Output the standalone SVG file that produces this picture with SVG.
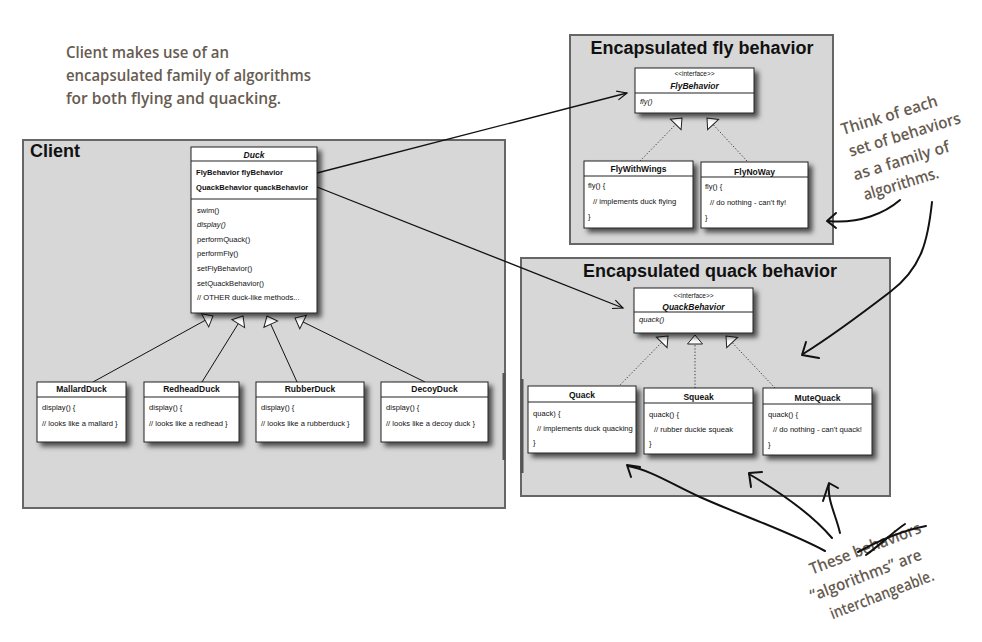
<svg xmlns="http://www.w3.org/2000/svg" width="982" height="642" viewBox="0 0 982 642">
<defs>
<filter id="sh" x="-20%" y="-20%" width="150%" height="150%">
<feDropShadow dx="4" dy="4" stdDeviation="2.5" flood-color="#000" flood-opacity="0.65"/>
</filter>
<marker id="tri" markerUnits="userSpaceOnUse" markerWidth="20" markerHeight="20" refX="0" refY="0" orient="auto" overflow="visible" viewBox="-12 -10 14 20">
<path d="M0,0 L-9,-7.5 L-9,7.5 Z" fill="#fff" stroke="#222" stroke-width="1"/>
</marker>
<marker id="open" markerUnits="userSpaceOnUse" markerWidth="20" markerHeight="20" refX="0" refY="0" orient="auto" overflow="visible" viewBox="-12 -10 14 20">
<path d="M-10,-4.5 L0,0 L-10,4.5" fill="none" stroke="#111" stroke-width="1.2"/>
</marker>
</defs>
<style>
.cont{fill:#d7d7d7;stroke:#666;stroke-width:2}
.ctitle{font-family:"Liberation Sans",Arial,sans-serif;font-weight:bold;font-size:18px;fill:#111}
.box{fill:#fff;stroke:#222;stroke-width:1;filter:url(#sh)}
.sep{stroke:#222;stroke-width:1}
.hd{font-family:"Liberation Sans",Arial,sans-serif;font-weight:bold;font-size:8.5px;fill:#111;text-anchor:middle}
.hdi{font-family:"Liberation Sans",Arial,sans-serif;font-weight:bold;font-style:italic;font-size:8.5px;fill:#111;text-anchor:middle}
.st{font-family:"Liberation Sans",Arial,sans-serif;font-size:6.5px;fill:#111;text-anchor:middle}
.tx{font-family:"Liberation Sans",Arial,sans-serif;font-size:7.6px;fill:#111}
.txb{font-family:"Liberation Sans",Arial,sans-serif;font-size:7.6px;font-weight:bold;fill:#111}
.txi{font-family:"Liberation Sans",Arial,sans-serif;font-size:7.6px;font-style:italic;fill:#111}
.gen{stroke:#111;stroke-width:1;fill:none;marker-end:url(#tri)}
.real{stroke:#333;stroke-width:1;stroke-dasharray:1.2,2;fill:none;marker-end:url(#tri)}
.assoc{stroke:#111;stroke-width:1.3;fill:none;marker-end:url(#open)}
.hand{font-family:"Open Sans","DejaVu Sans",sans-serif;font-size:16px;font-weight:600;fill:#675c51}
.ink{stroke:#111;stroke-width:2;fill:none;stroke-linecap:round;stroke-linejoin:round}
</style>

<!-- containers -->
<g id="client">
<rect class="cont" x="23" y="140" width="482" height="368"/>
<line x1="504" y1="373" x2="504" y2="460" stroke="#555" stroke-width="3"/>
<text class="ctitle" x="30" y="157">Client</text>
</g>
<g id="flyGroup">
<rect class="cont" x="570" y="35" width="263" height="209"/>
<text class="ctitle" x="702" y="54" text-anchor="middle">Encapsulated fly behavior</text>
</g>
<g id="quackGroup">
<rect class="cont" x="521" y="258" width="369" height="238"/>
<line x1="522" y1="379" x2="522" y2="473" stroke="#555" stroke-width="3"/>
<text class="ctitle" x="710" y="277" text-anchor="middle">Encapsulated quack behavior</text>
</g>

<!-- connectors -->
<g id="connectors">
<line class="gen" x1="93" y1="382" x2="213" y2="316"/>
<line class="gen" x1="202" y1="382" x2="243" y2="316"/>
<line class="gen" x1="297" y1="382" x2="267" y2="316"/>
<line class="gen" x1="425" y1="382" x2="295" y2="318"/>
<line class="real" x1="640" y1="161" x2="682" y2="118"/>
<line class="real" x1="747" y1="161" x2="707" y2="118"/>
<line class="real" x1="618" y1="387" x2="668" y2="336"/>
<line class="real" x1="695" y1="388" x2="695" y2="335"/>
<line class="real" x1="775" y1="388" x2="726" y2="336"/>
<line class="assoc" x1="317" y1="173" x2="627" y2="93"/>
<line class="assoc" x1="317" y1="187" x2="623" y2="308"/>
</g>

<!-- Duck -->
<g id="Duck">
<rect class="box" x="191" y="147" width="126" height="166"/>
<line class="sep" x1="191" y1="161" x2="317" y2="161"/>
<line class="sep" x1="191" y1="199" x2="317" y2="199"/>
<text class="hdi" x="254" y="158">Duck</text>
<text class="txb" x="196" y="175">FlyBehavior flyBehavior</text>
<text class="txb" x="196" y="190">QuackBehavior quackBehavior</text>
<text class="tx" x="197" y="213">swim()</text>
<text class="txi" x="197" y="227">display()</text>
<text class="tx" x="197" y="242">performQuack()</text>
<text class="tx" x="197" y="256">performFly()</text>
<text class="tx" x="197" y="271">setFlyBehavior()</text>
<text class="tx" x="197" y="286">setQuackBehavior()</text>
<text class="tx" x="197" y="300">// OTHER duck-like methods...</text>
</g>

<g id="MallardDuck">
<rect class="box" x="37" y="382" width="89" height="60"/>
<line class="sep" x1="37" y1="397" x2="126" y2="397"/>
<text class="hd" x="81.5" y="392">MallardDuck</text>
<text class="tx" x="42" y="410">display() {</text>
<text class="tx" x="42" y="426">// looks like a mallard }</text>
</g>
<g id="RedheadDuck">
<rect class="box" x="144" y="382" width="95" height="60"/>
<line class="sep" x1="144" y1="397" x2="239" y2="397"/>
<text class="hd" x="191.5" y="392">RedheadDuck</text>
<text class="tx" x="149" y="410">display() {</text>
<text class="tx" x="149" y="426">// looks like a redhead }</text>
</g>
<g id="RubberDuck">
<rect class="box" x="256" y="382" width="108" height="60"/>
<line class="sep" x1="256" y1="397" x2="364" y2="397"/>
<text class="hd" x="310" y="392">RubberDuck</text>
<text class="tx" x="261" y="410">display() {</text>
<text class="tx" x="261" y="426">// looks like a rubberduck }</text>
</g>
<g id="DecoyDuck">
<rect class="box" x="381" y="382" width="107" height="60"/>
<line class="sep" x1="381" y1="397" x2="488" y2="397"/>
<text class="hd" x="434.5" y="392">DecoyDuck</text>
<text class="tx" x="386" y="410">display() {</text>
<text class="tx" x="386" y="426">// looks like a decoy duck }</text>
</g>

<!-- Fly -->
<g id="FlyBehavior">
<rect class="box" x="635" y="68" width="119" height="45"/>
<line class="sep" x1="635" y1="93" x2="754" y2="93"/>
<text class="st" x="694.5" y="76">&lt;&lt;interface&gt;&gt;</text>
<text class="hdi" x="694.5" y="89">FlyBehavior</text>
<text class="txi" x="640" y="104">fly()</text>
</g>
<g id="FlyWithWings">
<rect class="box" x="584" y="161" width="109" height="67"/>
<line class="sep" x1="584" y1="176" x2="693" y2="176"/>
<text class="hd" x="638.5" y="172">FlyWithWings</text>
<text class="tx" x="588" y="188">fly() {</text>
<text class="tx" x="593" y="204">// implements duck flying</text>
<text class="tx" x="588" y="219">}</text>
</g>
<g id="FlyNoWay">
<rect class="box" x="701" y="162" width="107" height="66"/>
<line class="sep" x1="701" y1="177" x2="808" y2="177"/>
<text class="hd" x="754.5" y="175">FlyNoWay</text>
<text class="tx" x="705" y="189">fly() {</text>
<text class="tx" x="710" y="205">// do nothing - can't fly!</text>
<text class="tx" x="705" y="220">}</text>
</g>

<!-- Quack -->
<g id="QuackBehavior">
<rect class="box" x="634" y="288" width="119" height="45"/>
<line class="sep" x1="634" y1="312" x2="753" y2="312"/>
<text class="st" x="693.5" y="298">&lt;&lt;interface&gt;&gt;</text>
<text class="hdi" x="693.5" y="309.5">QuackBehavior</text>
<text class="txi" x="639" y="321.5">quack()</text>
</g>
<g id="Quack">
<rect class="box" x="528" y="386" width="108" height="67"/>
<line class="sep" x1="528" y1="402" x2="636" y2="402"/>
<text class="hd" x="582" y="398">Quack</text>
<text class="tx" x="533" y="416">quack) {</text>
<text class="tx" x="537" y="431">// implements duck quacking</text>
<text class="tx" x="533" y="445">}</text>
</g>
<g id="Squeak">
<rect class="box" x="644" y="388" width="109" height="66"/>
<line class="sep" x1="644" y1="403" x2="753" y2="403"/>
<text class="hd" x="698.5" y="400">Squeak</text>
<text class="tx" x="649" y="417">quack() {</text>
<text class="tx" x="654" y="432">// rubber duckie squeak</text>
<text class="tx" x="649" y="446">}</text>
</g>
<g id="MuteQuack">
<rect class="box" x="763" y="388" width="109" height="67"/>
<line class="sep" x1="763" y1="404" x2="872" y2="404"/>
<text class="hd" x="817.5" y="401">MuteQuack</text>
<text class="tx" x="768" y="417">quack() {</text>
<text class="tx" x="773" y="432">// do nothing - can't quack!</text>
<text class="tx" x="768" y="447">}</text>
</g>

<!-- annotations -->
<g id="note-client">
<text class="hand" x="66" y="58" textLength="163" lengthAdjust="spacingAndGlyphs">Client makes use of an</text>
<text class="hand" x="66" y="81" textLength="245" lengthAdjust="spacingAndGlyphs">encapsulated family of algorithms</text>
<text class="hand" x="66" y="104" textLength="215" lengthAdjust="spacingAndGlyphs">for both flying and quacking.</text>
</g>
<g id="note-family">
<g transform="translate(900,150) rotate(-17)">
<text class="hand" x="0" y="-31" text-anchor="middle" textLength="100" lengthAdjust="spacingAndGlyphs">Think of each</text>
<text class="hand" x="9" y="-8" text-anchor="middle" textLength="116" lengthAdjust="spacingAndGlyphs">set of behaviors</text>
<text class="hand" x="-2" y="16" text-anchor="middle" textLength="100" lengthAdjust="spacingAndGlyphs">as a family of</text>
<text class="hand" x="-9" y="38" text-anchor="middle" textLength="78" lengthAdjust="spacingAndGlyphs">algorithms.</text>
</g>
<path class="ink" d="M900,200 C885,213 860,224 828,221"/>
<path class="ink" d="M836,213 L827,221 L836,228"/>
<path class="ink" d="M932,202 C928,240 922,268 890,292 C860,315 832,336 803,354"/>
<path class="ink" d="M806,342 L802,355 L819,358"/>
</g>
<g id="note-interchangeable">
<g transform="translate(870,575) rotate(-21)">
<text class="hand" x="5" y="-21" text-anchor="middle" textLength="118" lengthAdjust="spacingAndGlyphs">These behaviors</text>
<text class="hand" x="-4" y="4" text-anchor="middle" textLength="118" lengthAdjust="spacingAndGlyphs">“algorithms” are</text>
<text class="hand" x="4" y="28" text-anchor="middle" textLength="110" lengthAdjust="spacingAndGlyphs">interchangeable.</text>
</g>
<path class="ink" stroke-width="1.6" d="M858,552 C880,540 905,530 926,526"/>
<path class="ink" stroke-width="1.6" d="M866,555 C880,545 893,532 905,524"/>
<path class="ink" d="M825,551 C790,532 740,515 700,497 C670,483 650,470 628,466"/>
<path class="ink" d="M640,467 L627,465 L631,477"/>
<path class="ink" d="M832,538 C815,518 790,498 749,474"/>
<path class="ink" d="M762,472 L749,473 L751,487"/>
<path class="ink" d="M840,533 C836,515 827,500 829,484"/>
<path class="ink" d="M838,488 L829,483 L823,501"/>
</g>
</svg>
